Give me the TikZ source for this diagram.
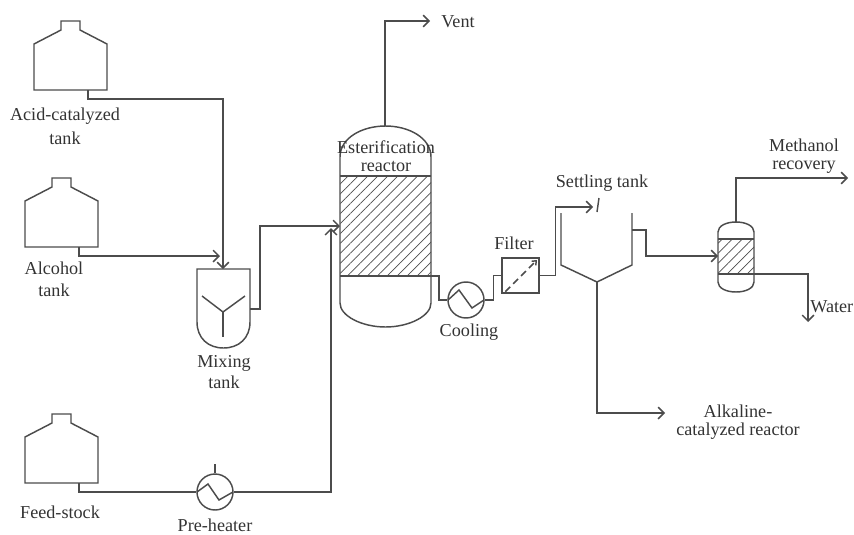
\documentclass[tikz,border=0pt]{standalone}
\usepackage{fontspec}
\setmainfont{Liberation Serif}
\usepackage{tikz}
\usetikzlibrary{patterns.meta}
\usetikzlibrary{arrows.meta}

\definecolor{pipegray}{gray}{0.3}
\tikzset{
    pipe/.style={draw=pipegray, line width=1.25pt},
    flow/.style={pipe, -{Straight Barb[length=5pt,width=10pt]}},
    hatched/.style={pattern={Lines[angle=45,distance=6pt,line width=0.6pt]}, pattern color=pipegray},
    exchanger/.style={circle, draw=pipegray, line width=1.25pt, minimum size=10.8mm, inner sep=0pt},
    caption/.style={text=black!80, font=\fontsize{15.5}{17}\selectfont, align=center, inner sep=0pt}
}

\begin{document}
\begin{tikzpicture}[x=0.3mm, y=-0.3mm]
    \useasboundingbox (0,0) rectangle (854,534);

    % storage tanks
    \foreach \x/\y/\tank in {34/90/acid, 25/247/alcohol, 25/483/feed} {
        \draw[pipe] (\x,\y) -- (\x,\y-46) -- (\x+27,\y-60) -- (\x+27,\y-69) -- (\x+46,\y-69)
            -- (\x+46,\y-60) -- (\x+73,\y-46) -- (\x+73,\y) -- cycle;
        \coordinate (\tank-out) at (\x+54,\y);
    }

    % mixing tank
    \draw[pipe] (197,269) -- (197,322) .. controls (197,338) and (208,348) .. (223.5,348)
        .. controls (239,348) and (250,338) .. (250,322) -- (250,269) -- cycle;
    \draw[pipe] (202,296) -- (223,312) -- (245,296);
    \draw[pipe] (223,312) -- (223,337);
    \coordinate (mix-top) at (223,269);
    \coordinate (mix-side) at (220,256);
    \coordinate (mix-out) at (250,309);

    % esterification reactor
    \fill[hatched] (340,176) rectangle (431,276);
    \draw[pipe] (340,303) -- (340,157) .. controls (340,138) and (362,126) .. (385.5,126)
        .. controls (409,126) and (431,138) .. (431,157) -- (431,303)
        .. controls (431,316) and (409,327) .. (385.5,327)
        .. controls (362,327) and (340,316) .. (340,303);
    \draw[pipe] (340,176) -- (431,176);
    \draw[pipe] (340,276) -- (431,276);
    \coordinate (reactor-top) at (385,126);
    \coordinate (reactor-in) at (340,226);
    \coordinate (reactor-low) at (331,228);
    \coordinate (reactor-out) at (431,276);
    \coordinate (vent-end) at (430,21);

    % heat exchangers
    \node[exchanger] (preheater) at (215,492) {};
    \draw[pipe] (197,492) -- (208,484) -- (219,500) -- (233,492);
    \draw[pipe] (preheater.north) -- ++(0,-9);
    \node[exchanger] (cooler) at (466,300) {};
    \draw[pipe] (448,300) -- (459,290) -- (472,308) -- (484,300);

    % filter
    \node[draw=pipegray, line width=1.25pt, minimum width=11.1mm, minimum height=10.5mm, inner sep=0pt] (filter) at (520.5,275.5) {};
    \draw[pipe, dash pattern=on 6pt off 3.5pt, -{Straight Barb[length=3pt,width=5pt]}] (filter.south west) ++(4,-2) -- (537,260);

    % settling tank
    \draw[pipe] (561,213) -- (561,265) -- (597,282) -- (632,265) -- (632,213);
    \draw[pipe] (599,198) -- (597,212);
    \coordinate (settle-out) at (632,230);
    \coordinate (settle-bottom) at (597,282);
    \coordinate (settle-in) at (593,207);
    \coordinate (alkaline-end) at (665,413);

    % small column
    \fill[hatched] (718,239) rectangle (754,274);
    \draw[pipe] (718,232) .. controls (718,226) and (726,222) .. (736,222)
        .. controls (746,222) and (754,226) .. (754,232) -- (754,282)
        .. controls (754,288) and (746,292) .. (736,292)
        .. controls (726,292) and (718,288) .. (718,282) -- cycle;
    \draw[pipe] (718,239) -- (754,239);
    \draw[pipe] (718,274) -- (754,274);
    \coordinate (column-top) at (736,222);
    \coordinate (column-in) at (718,256);
    \coordinate (column-out) at (754,274);
    \coordinate (methanol-end) at (848,178);
    \coordinate (water-end) at (808,322);

    % pipes
    \draw[flow] (acid-out) -- ++(0,9) -| (mix-top);
    \draw[flow] (alcohol-out) -- ++(0,9) -- (mix-side);
    \draw[pipe] (feed-out) -- ++(0,9) -- (preheater.west);
    \draw[flow] (preheater.east) -| (reactor-low);
    \draw[flow] (mix-out) -- ++(10,0) |- (reactor-in);
    \draw[flow] (reactor-top) |- (vent-end);
    \draw[pipe] (reactor-out) -- ++(8,0) |- (cooler.west);
    \draw[pipe] (cooler.east) -- ++(9,0) |- (filter.west);
    \draw[flow] (filter.east) -- ++(16,0) |- (settle-in);
    \draw[flow] (settle-out) -- ++(14,0) |- (column-in);
    \draw[flow] (settle-bottom) |- (alkaline-end);
    \draw[flow] (column-top) |- (methanol-end);
    \draw[flow] (column-out) -| (water-end);

    % labels
    \node[caption] (acid-label) at (65,126) {Acid-catalyzed\\[3.4pt]tank};
    \node[caption] (alcohol-label) at (54,279) {Alcohol\\[2pt]tank};
    \node[caption] (feed-label) at (60,512) {Feed-stock};
    \node[caption] (mix-label) at (224,372) {Mixing\\[1pt]tank};
    \node[caption] (heater-label) at (215,525) {Pre-heater};
    \node[caption] (reactor-label) at (386,156) {Esterification\\[-1.7pt]reactor};
    \node[caption] (vent-label) at (458,22) {Vent};
    \node[caption] (cooling-label) at (469,332) {Cooling};
    \node[caption] (filter-label) at (514,243) {Filter};
    \node[caption] (settling-label) at (602,183) {Settling tank};
    \node[caption] (methanol-label) at (804,156) {Methanol\\[-1.7pt]recovery};
    \node[caption, anchor=east] (water-label) at (853.5,307) {Water};
    \node[caption] (alkaline-label) at (738,422) {Alkaline-\\[-1.7pt]catalyzed reactor};
\end{tikzpicture}
\end{document}
